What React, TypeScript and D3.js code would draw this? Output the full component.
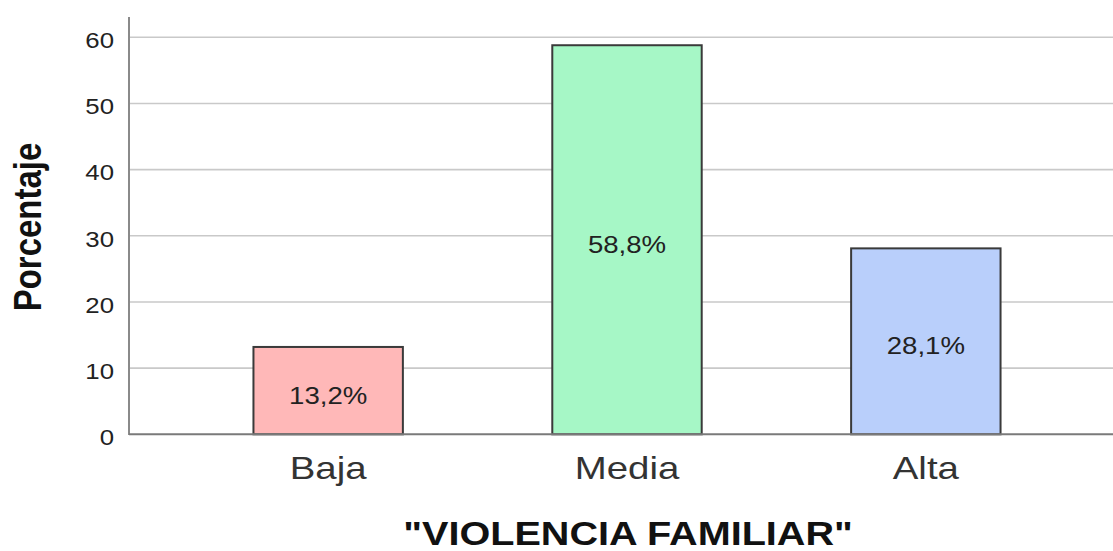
import React from "react";
import * as d3 from "d3";

const categories = ["Baja", "Media", "Alta"];
const values = [13.2, 58.8, 28.1];
const valueLabels = ["13,2%", "58,8%", "28,1%"];
const barColors = ["#ffb8b8", "#a6f7c6", "#b9cffb"];
const yTicks = [0, 10, 20, 30, 40, 50, 60];

const W = 1113;
const H = 551;
const FONT = "'Liberation Sans', Arial, sans-serif";
const SX = 1.2;

export default function App() {
  const axisX = 129;
  const y = d3.scaleLinear().domain([0, 60]).range([434.3, 37.3]);
  const x = d3
    .scaleBand<string>()
    .domain(categories)
    .range([178.75, 1075.25])
    .paddingInner(0.5)
    .paddingOuter(0.25);

  return (
    <svg
      width={W}
      height={H}
      style={{ position: "absolute", left: 0, top: 0, background: "#fff" }}
      fontFamily={FONT}
    >
      <rect x={0} y={0} width={W} height={H} fill="#fff" />
      {yTicks.map((t) =>
        t === 0 ? null : (
          <line
            key={"g" + t}
            x1={axisX}
            x2={W}
            y1={y(t)}
            y2={y(t)}
            stroke="#c9c9c9"
            strokeWidth={1.6}
          />
        )
      )}
      {yTicks.map((t) => (
        <text
          key={"t" + t}
          transform={`translate(114,${y(t) + 10.7}) scale(${SX},1)`}
          textAnchor="end"
          fontSize={21.5}
          fill="#222"
        >
          {t}
        </text>
      ))}
      {categories.map((c, i) => {
        const bx = x(c)!;
        const bw = x.bandwidth();
        const top = y(values[i]);
        const bottom = y(0);
        return (
          <g key={c}>
            <rect
              x={bx}
              y={top}
              width={bw}
              height={bottom - top}
              fill={barColors[i]}
              stroke="#3a3a3a"
              strokeWidth={2}
            />
            <text
              transform={`translate(${bx + bw / 2},${(top + bottom) / 2 + 13}) scale(${SX},1)`}
              textAnchor="middle"
              fontSize={23}
              fill="#222"
            >
              {valueLabels[i]}
            </text>
            <text
              transform={`translate(${bx + bw / 2},479.3) scale(${SX},1)`}
              textAnchor="middle"
              fontSize={32}
              fill="#333"
            >
              {c}
            </text>
          </g>
        );
      })}
      <line x1={axisX} x2={axisX} y1={17} y2={435} stroke="#8a8a8a" strokeWidth={2} />
      <line x1={axisX} x2={W} y1={y(0)} y2={y(0)} stroke="#7a7a7a" strokeWidth={2} />
      <text
        transform={`translate(41,227) scale(${SX},1) rotate(-90)`}
        textAnchor="middle"
        fontSize={33}
        fontWeight="bold"
        fill="#111"
      >
        Porcentaje
      </text>
      <text
        transform={`translate(628,545) scale(${SX},1)`}
        textAnchor="middle"
        fontSize={33}
        fontWeight="bold"
        fill="#111"
      >
        "VIOLENCIA FAMILIAR"
      </text>
    </svg>
  );
}
